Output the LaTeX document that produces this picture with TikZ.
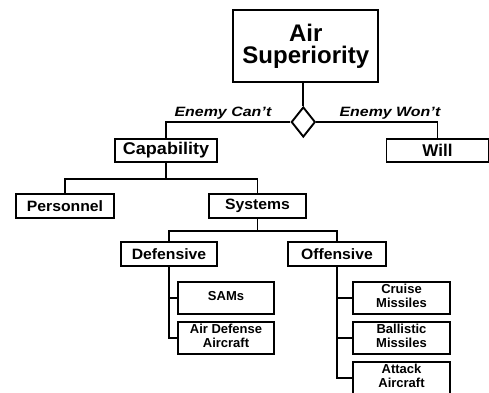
\documentclass[tikz,border=0pt]{standalone}
\usepackage{graphicx}
\usepackage{fontspec}
\setmainfont{Liberation Sans}
\usetikzlibrary{shapes.geometric}
\newcommand{\sx}[2]{\scalebox{#1}[1]{\begin{tabular}{@{}c@{}}#2\end{tabular}}}
\begin{document}
\begin{tikzpicture}[x=1pt,y=-1pt,
  box/.style={draw, line width=1.9pt, inner sep=0pt, align=center},
  conn/.style={line width=1.9pt},
  ftop/.style={font=\bfseries\fontsize{24}{22}\selectfont},
  fone/.style={font=\bfseries\fontsize{17}{19}\selectfont},
  ftwo/.style={font=\bfseries\fontsize{15}{17}\selectfont},
  fthree/.style={font=\bfseries\fontsize{13}{13.5}\selectfont},
  flab/.style={font=\bfseries\itshape\fontsize{13.5}{15}\selectfont, inner sep=0pt}
]
\fill[white] (0,0) rectangle (489,392);
\useasboundingbox (0,0) rectangle (489,392);

\node[box, ftop, minimum width=145pt, minimum height=72pt] (air) at (305.8,46) {Air\\Superiority};
\node[draw, line width=1.9pt, diamond, minimum width=24pt, minimum height=30pt, inner sep=0pt] (d) at (303.3,122) {};

\node[box, fone, minimum width=102pt, minimum height=23pt] (cap) at (166,150.5) {\raisebox{-1pt}{\scalebox{1.06}[1]{Capability}}};
\node[box, fone, minimum width=102pt, minimum height=23pt] (will) at (437.5,150.5) {Will};

\node[box, ftwo, minimum width=98pt, minimum height=24pt] (pers) at (65,206) {\scalebox{1.05}[1]{Personnel}};
\node[box, ftwo, minimum width=97pt, minimum height=24pt] (sys) at (257.5,206) {\raisebox{-1pt}{\scalebox{1.05}[1]{Systems}}};

\node[box, ftwo, minimum width=96pt, minimum height=24pt] (def) at (169,254) {\scalebox{1.05}[1]{Defensive}};
\node[box, ftwo, minimum width=98pt, minimum height=24pt] (off) at (337,254) {\scalebox{1.05}[1]{Offensive}};

\node[box, fthree, minimum width=96pt, minimum height=32pt] (sams) at (226,298) {\sx{1}{SAMs}};
\node[box, fthree, minimum width=96pt, minimum height=32pt] (adf) at (226,338) {\sx{1}{Air Defense\\Aircraft}};

\node[box, fthree, minimum width=97pt, minimum height=32pt] (cru) at (401.5,298) {\sx{1}{Cruise\\Missiles}};
\node[box, fthree, minimum width=97pt, minimum height=32pt] (bal) at (401.5,338) {\sx{1}{Ballistic\\Missiles}};
\node[box, fthree, minimum width=97pt, minimum height=32pt] (att) at (401.5,378) {\sx{1}{Attack\\Aircraft}};

\node[flab] (lcan) at (223,113) {\scalebox{1.18}[1]{Enemy Can’t}};
\node[flab] (lwon) at (390,113) {\scalebox{1.18}[1]{Enemy Won’t}};

\draw[conn] (air.south -| d.north) -- (d.north);
\draw[conn] (d.west) -| (cap.north);
\draw[conn] (d.east) -| (will.north);

\draw[conn] (cap.south) -- ++(0,16) coordinate (cj) -| (pers.north);
\draw[conn] (cj) -| (sys.north);

\draw[conn] (sys.south) -- ++(0,12) coordinate (sj) -| (def.north);
\draw[conn] (sj) -| (off.north);

\draw[conn] (def.south) |- (sams.west);
\draw[conn] (def.south) |- (adf.west);

\draw[conn] (off.south) |- (cru.west);
\draw[conn] (off.south) |- (bal.west);
\draw[conn] (off.south) |- (att.west);
\end{tikzpicture}
\end{document}
